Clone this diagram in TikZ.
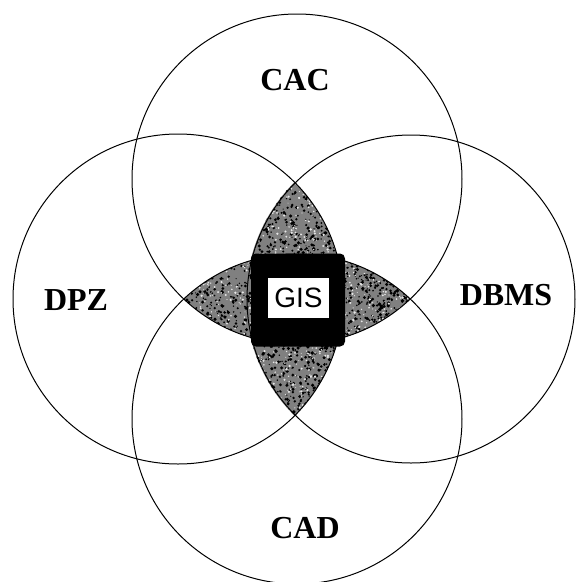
\documentclass[tikz,border=0pt]{standalone}
\usepackage{fontspec}
\setmainfont{Liberation Serif}
\newfontfamily\gisfont{Liberation Sans}
\begin{document}
\begin{tikzpicture}[x=1pt,y=-1pt,
  ring/.style={draw=black, line width=1pt},
  lbl/.style={font=\fontsize{32}{34}\selectfont\bfseries, inner sep=0pt},
  speck/.style={fill=black},
  hole/.style={fill=white!90!black}]
\useasboundingbox[fill=white] (0,0) rectangle (576,582);
\coordinate (cT) at (297,179);
\coordinate (cB) at (297,419);
\coordinate (cL) at (178,299);
\coordinate (cR) at (411,299);
\pgfmathsetseed{11}
% vertical lens (left and right circles)
\begin{scope}
  \clip (cL) circle (165);
  \clip (cR) circle (165);
  \fill[black!50] (200,150) rectangle (400,450);
  \foreach \i in {1,...,1400} {
    \fill[speck] ({297+55*rand},{299+120*rand}) circle ({0.6+1.2*rnd});
  }
  \foreach \i in {1,...,700} {
    \fill[hole] ({297+55*rand},{299+120*rand}) circle ({0.4+0.9*rnd});
  }
\end{scope}
% horizontal lens (top and bottom circles)
\begin{scope}
  \clip (cT) circle (165);
  \clip (cB) circle (165);
  \fill[black!50] (150,200) rectangle (450,400);
  \foreach \i in {1,...,1400} {
    \fill[speck] ({298+120*rand},{300+55*rand}) circle ({0.6+1.2*rnd});
  }
  \foreach \i in {1,...,700} {
    \fill[hole] ({298+120*rand},{300+55*rand}) circle ({0.4+0.9*rnd});
  }
\end{scope}
% circles
\draw[ring] (cT) circle (165);
\draw[ring] (cB) circle (165);
\draw[ring] (cL) circle (165);
\draw[ring] (cR) circle (164);
% centre
\node (core) [fill=black, minimum width=94pt, minimum height=93pt, rounded corners=5pt, inner sep=0pt] at (298,300) {};
\node (gis) [fill=white, minimum width=61pt, minimum height=40pt, inner sep=0pt, font=\gisfont\fontsize{28}{28}\selectfont] at (298.5,298) {GIS};
% labels
\node (cac) [lbl] at (295,80) {CAC};
\node (dpz) [lbl] at (76,300) {DPZ};
\node (dbms) [lbl] at (506,295) {DBMS};
\node (cad) [lbl] at (305,528) {CAD};
\end{tikzpicture}
\end{document}
